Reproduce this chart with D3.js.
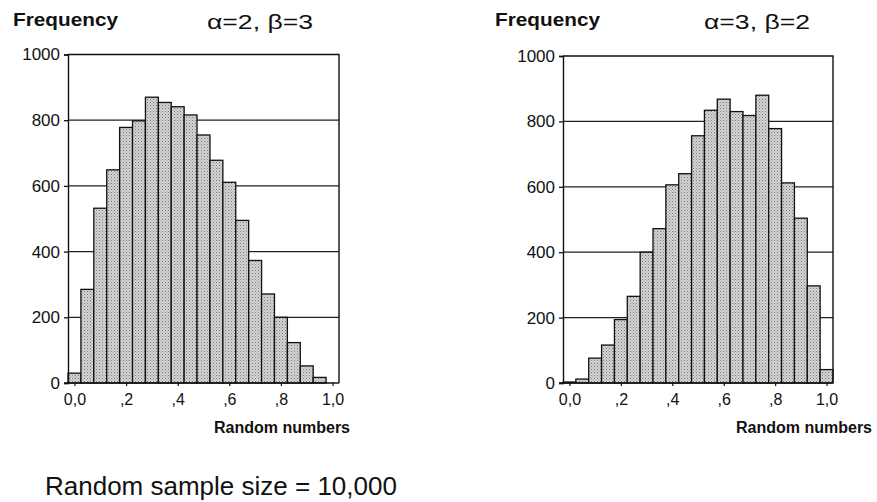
<!DOCTYPE html>
<html lang="en">
<head>
    <script src='https://d3js.org/d3.v7.min.js'></script>
    <style>
      body { margin: 0; background: #fff; }
      text { font-family: "Liberation Sans", Arial, sans-serif; fill: #111; }
    </style>
</head>
<body>
<script>
// bin centres (width 0.05) and counts
var binCenters = [0.00, 0.05, 0.10, 0.15, 0.20, 0.25, 0.30, 0.35, 0.40, 0.45, 0.50,
                  0.55, 0.60, 0.65, 0.70, 0.75, 0.80, 0.85, 0.90, 0.95, 1.00];
var countsA2B3 = [30, 285, 532, 649, 778, 798, 870, 854, 841, 816, 755,
                  678, 611, 495, 373, 271, 200, 123, 52, 17, 0];
var countsA3B2 = [3, 12, 76, 116, 194, 265, 400, 472, 606, 640, 756,
                  834, 868, 830, 818, 880, 778, 612, 504, 297, 41];
var xTicks = [0, 0.2, 0.4, 0.6, 0.8, 1.0];
var xTickLabels = ["0,0", ",2", ",4", ",6", ",8", "1,0"];
var yTicks = [0, 200, 400, 600, 800, 1000];
var binWidth = 0.05;

const W = 877, H = 502;
const svg = d3.select("body").append("svg")
  .attr("width", W).attr("height", H);

// stippled grey fill like the printed bars
var defs = svg.append("defs");
var pat = defs.append("pattern")
  .attr("id", "stipple")
  .attr("width", 3).attr("height", 3)
  .attr("patternUnits", "userSpaceOnUse");
pat.append("rect").attr("width", 3).attr("height", 3).attr("fill", "#d4d4d4");
pat.append("rect").attr("x", 0).attr("y", 0).attr("width", 1).attr("height", 1).attr("fill", "#7a7a7a");
pat.append("rect").attr("x", 1.5).attr("y", 1.5).attr("width", 1).attr("height", 1).attr("fill", "#9a9a9a");

function drawHist(opt) {
  var x = d3.scaleLinear().domain([-0.025, 1.025]).range([opt.left, opt.right]);
  var y = d3.scaleLinear().domain([0, 1000]).range([opt.bottom, opt.top]);
  var g = svg.append("g");

  // gridlines
  g.selectAll(".grid").data(yTicks.filter(d => d > 0 && d < 1000)).enter()
    .append("line")
    .attr("x1", opt.left).attr("x2", opt.right)
    .attr("y1", d => y(d)).attr("y2", d => y(d))
    .attr("stroke", "#222").attr("stroke-width", 1.2);

  // bars
  g.selectAll(".bar").data(opt.counts).enter()
    .append("rect")
    .attr("x", (d, i) => x(binCenters[i] - binWidth / 2))
    .attr("width", x(binWidth) - x(0))
    .attr("y", d => y(d))
    .attr("height", d => y(0) - y(d))
    .attr("fill", "url(#stipple)")
    .attr("stroke", "#111")
    .attr("stroke-width", 1.3);

  // frame: top and right
  g.append("path")
    .attr("d", "M" + opt.left + "," + y(1000) + "H" + opt.right + "V" + y(0))
    .attr("fill", "none").attr("stroke", "#111").attr("stroke-width", 1.4);

  // y axis
  var yAxis = d3.axisLeft(y).tickValues(yTicks).tickFormat(d3.format("d"))
    .tickSize(4).tickPadding(4);
  var ya = g.append("g").attr("transform", "translate(" + opt.left + ",0)").call(yAxis);
  ya.select(".domain").attr("stroke", "#111").attr("stroke-width", 1.4);
  ya.selectAll(".tick line").attr("stroke", "#111").attr("stroke-width", 1.3);
  ya.selectAll("text").attr("font-size", 17).attr("fill", "#111")
    .attr("font-family", "Liberation Sans, Arial, sans-serif");

  // x axis
  var xAxis = d3.axisBottom(x).tickValues(xTicks)
    .tickFormat((d, i) => xTickLabels[i]).tickSize(3).tickPadding(8);
  var xa = g.append("g").attr("transform", "translate(0," + y(0) + ")").call(xAxis);
  xa.select(".domain").attr("d", "M" + (opt.left - 4) + ",0H" + opt.right)
    .attr("stroke", "#111").attr("stroke-width", 1.4);
  xa.selectAll(".tick line").attr("stroke", "#111").attr("stroke-width", 1.2);
  xa.selectAll("text").attr("font-size", 16).attr("fill", "#111")
    .attr("font-family", "Liberation Sans, Arial, sans-serif");

  // labels
  svg.append("text").attr("x", opt.freqX).attr("y", 26)
    .attr("font-size", 18).attr("font-weight", "bold")
    .attr("textLength", 105).attr("lengthAdjust", "spacingAndGlyphs")
    .text("Frequency");
  svg.append("text").attr("x", opt.titleX).attr("y", 29)
    .attr("font-size", 20)
    .attr("textLength", 106).attr("lengthAdjust", "spacingAndGlyphs")
    .text(opt.title);
  svg.append("text").attr("x", opt.xLabelEnd).attr("y", 433)
    .attr("text-anchor", "end")
    .attr("font-size", 16).attr("font-weight", "bold")
    .text("Random numbers");
}

drawHist({counts: countsA2B3, left: 68, right: 339, top: 54.5, bottom: 383,
          freqX: 13, titleX: 207, title: "\u03b1=2, \u03b2=3", xLabelEnd: 350});
drawHist({counts: countsA3B2, left: 563, right: 833, top: 56, bottom: 383,
          freqX: 495, titleX: 704, title: "\u03b1=3, \u03b2=2", xLabelEnd: 872});

svg.append("text").attr("x", 45).attr("y", 495)
  .attr("font-size", 26)
  .text("Random sample size = 10,000");
</script>
</body>
</html>
